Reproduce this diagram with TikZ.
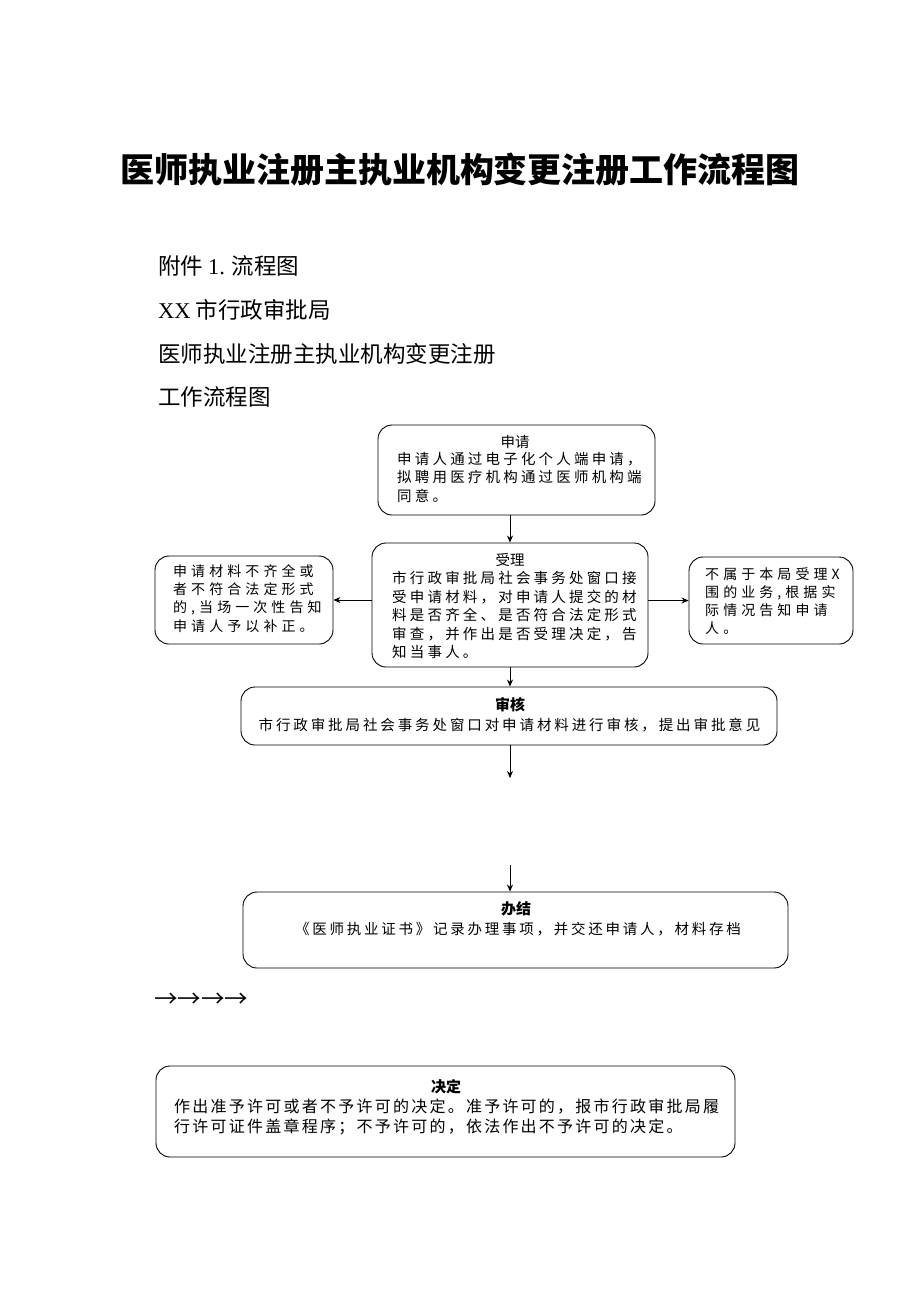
\documentclass[tikz,border=0pt]{standalone}
\usepackage{fontspec}
\usetikzlibrary{arrows.meta}
\setmainfont{Liberation Serif}
\newfontfamily\cjk{Noto Sans CJK SC}
\newfontfamily\bx[LetterSpace=22]{Noto Sans CJK SC}
\newfontfamily\bxr[LetterSpace=20]{Noto Sans CJK SC}
\newfontfamily\bxm[LetterSpace=19]{Noto Sans CJK SC}
\newfontfamily\bxw[LetterSpace=29]{Noto Sans CJK SC}
\newfontfamily\bxn[LetterSpace=14]{Noto Sans CJK SC}
\tikzset{
  box/.style={draw, line width=0.9pt, rounded corners=14pt, inner sep=0pt},
  txt/.style={anchor=north west, inner sep=0pt, align=left, font=\bx\fontsize{14.5}{18.5}\selectfont},
  txtw/.style={anchor=north west, inner sep=0pt, align=left, font=\bxw\fontsize{14}{18.3}\selectfont},
  txtn/.style={anchor=north west, inner sep=0pt, align=left, font=\bxn\fontsize{16}{20}\selectfont},
  ttl/.style={inner sep=0pt, font=\cjk\fontsize{14.5}{18}\selectfont},
  ttlb/.style={inner sep=0pt, font=\cjk\bfseries\fontsize{15}{18}\selectfont},
  head/.style={anchor=west, inner sep=0pt, font=\cjk\fontsize{22.5}{24}\selectfont},
  arr/.style={line width=0.9pt, -{Stealth[length=7pt,width=6pt]}}
}
\begin{document}
\begin{tikzpicture}[x=1pt,y=-1pt]
\useasboundingbox (0,0) rectangle (920,1302);
\fill[white] (0,0) rectangle (920,1302);

\node[inner sep=0pt, font=\cjk\bfseries\fontsize{34}{40}\selectfont] (title) at (460,170) {医师执业注册主执业机构变更注册工作流程图};

\node[head] (h1) at (158,266) {附件 {\rmfamily 1.} 流程图};
\node[head] (h2) at (158,310) {{\rmfamily XX} 市行政审批局};
\node[head] (h3) at (158,354) {医师执业注册主执业机构变更注册};
\node[head] (h4) at (158,397) {工作流程图};

% apply
\node[box, minimum width=277pt, minimum height=90pt] (apply) at (516.5,470) {};
\node[ttl] (applyT) at (515,442) {申请};
\node[txt] (applyB) at (397,452) {申请人通过电子化个人端申请，\\拟聘用医疗机构通过医师机构端\\同意。};

% accept
\node[box, minimum width=276pt, minimum height=124pt] (accept) at (510,605) {};
\node[ttl] (acceptT) at (510,560) {受理};
\node[txt] (acceptB) at (392,571) {市行政审批局社会事务处窗口接\\受申请材料，对申请人提交的材\\料是否齐全、是否符合法定形式\\审查，并作出是否受理决定，告\\知当事人。};

% left
\node[box, minimum width=178pt, minimum height=88pt] (reject) at (244,600) {};
\node[txtw] (rejectB) at (173,564) {申请材料不齐全或\\者不符合法定形式\\的,当场一次性告知\\申请人予以补正。};

% right
\node[box, minimum width=164pt, minimum height=87pt] (notours) at (771,600.5) {};
\node[txtw] (notoursB) at (705,567) {不属于本局受理X\\围的业务,根据实\\际情况告知申请\\人。};

% review
\node[box, minimum width=536pt, minimum height=58pt] (review) at (509,716) {};
\node[ttlb] (reviewT) at (510,705) {审核};
\node[txt, anchor=north, font=\bxr\fontsize{14.5}{18}\selectfont] (reviewB) at (509.5,718) {市行政审批局社会事务处窗口对申请材料进行审核，提出审批意见};

% finish
\node[box, minimum width=545pt, minimum height=76pt] (finish) at (515.5,930) {};
\node[ttlb] (finishT) at (516,909) {办结};
\node[txt, anchor=north, font=\bxm\fontsize{14.5}{18}\selectfont] (finishB) at (518,922) {《医师执业证书》记录办理事项，并交还申请人，材料存档};

% arrows text
\node[anchor=west, inner sep=0pt, font=\cjk\fontsize{23.5}{24}\selectfont] (arrs) at (154,1000) {→→→→};

% decide
\node[box, minimum width=579pt, minimum height=91pt] (decide) at (445.5,1111.5) {};
\node[ttlb] (decideT) at (446,1087) {决定};
\node[txtn] (decideB) at (174,1099) {作出准予许可或者不予许可的决定。准予许可的，报市行政审批局履\\行许可证件盖章程序；不予许可的，依法作出不予许可的决定。};

% connectors
\draw[arr] (apply.south -| accept.north) -- (accept.north);
\draw[arr] (accept.west |- reject.east) -- (reject.east);
\draw[arr] (accept.east |- notours.west) -- (notours.west);
\draw[arr] (accept.south) -- (review.north -| accept.south);
\coordinate (gapTop) at (510,778);
\coordinate (gapBot) at (510,865);
\draw[arr] (review.south -| gapTop) -- (gapTop);
\draw[arr] (gapBot) -- (finish.north -| gapBot);
\end{tikzpicture}
\end{document}
